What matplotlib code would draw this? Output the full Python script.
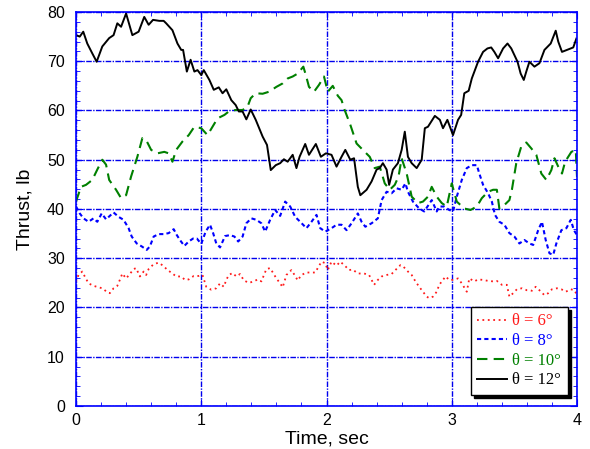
import matplotlib
matplotlib.use("Agg")
import matplotlib.pyplot as plt
from matplotlib.ticker import MultipleLocator

plt.rcParams["font.family"] = ["Liberation Sans", "DejaVu Sans"]

# theta = 6 deg
t6 = [0.0, 0.02, 0.05, 0.07, 0.1, 0.14, 0.18, 0.21, 0.245, 0.27, 0.3, 0.33, 0.35, 0.37, 0.4,
      0.43, 0.46, 0.48, 0.51, 0.54, 0.56, 0.58, 0.62, 0.66, 0.7, 0.73, 0.76, 0.8, 0.84, 0.87,
      0.9, 0.94, 0.98, 1.01, 1.04, 1.08, 1.12, 1.15, 1.18, 1.2, 1.22, 1.25, 1.28, 1.31, 1.34,
      1.38, 1.42, 1.45, 1.48, 1.52, 1.55, 1.6, 1.63, 1.65, 1.68, 1.72, 1.75, 1.77, 1.8, 1.84,
      1.87, 1.91, 1.93, 1.96, 1.99, 2.01, 2.04, 2.08, 2.11, 2.15, 2.18, 2.21, 2.25, 2.3, 2.34,
      2.38, 2.41, 2.44, 2.48, 2.52, 2.55, 2.59, 2.61, 2.65, 2.68, 2.71, 2.74, 2.77, 2.8, 2.82,
      2.85, 2.88, 2.9, 2.93, 2.95, 2.98, 3.01, 3.05, 3.08, 3.12, 3.14, 3.18, 3.21, 3.25, 3.29,
      3.33, 3.36, 3.4, 3.44, 3.46, 3.49, 3.52, 3.56, 3.6, 3.64, 3.67, 3.7, 3.74, 3.77, 3.8,
      3.84, 3.875, 3.91, 3.95, 3.98, 4.0]
th6 = [25.2, 26.6, 27.3, 26.3, 24.9, 24.4, 24.1, 23.9, 23.2, 22.9, 23.9, 24.4, 25.6, 26.9, 25.9,
       26.8, 27.8, 28.0, 26.3, 27.3, 26.6, 27.8, 28.8, 29.1, 28.4, 27.6, 27.1, 26.3, 26.3, 25.6,
       25.7, 26.4, 26.4, 26.6, 24.2, 23.6, 23.9, 24.9, 24.2, 25.6, 26.6, 27.0, 26.3, 26.8, 25.5,
       25.0, 25.3, 25.7, 25.3, 27.8, 28.0, 25.9, 24.9, 24.1, 26.6, 27.6, 26.4, 25.5, 26.6, 27.1,
       27.1, 27.1, 28.0, 29.3, 29.0, 27.6, 29.3, 28.5, 29.3, 28.4, 27.6, 27.7, 26.9, 26.9, 26.6,
       24.6, 25.6, 26.3, 26.6, 26.8, 27.6, 28.6, 28.4, 27.3, 26.6, 25.3, 24.2, 23.2, 22.2, 21.9,
       22.2, 23.2, 24.6, 25.6, 26.3, 25.6, 25.6, 25.9, 24.9, 23.2, 25.9, 25.3, 25.7, 25.6, 25.4,
       25.3, 25.4, 24.6, 24.6, 22.2, 22.9, 23.7, 23.9, 23.5, 23.4, 24.2, 23.5, 22.5, 22.9, 23.7,
       23.9, 23.7, 23.2, 23.7, 23.5, 22.5]

# theta = 8 deg
t8 = [0.0, 0.03, 0.06, 0.1, 0.14, 0.17, 0.205, 0.24, 0.27, 0.3, 0.34, 0.38, 0.42, 0.445, 0.485,
      0.525, 0.565, 0.59, 0.62, 0.66, 0.7, 0.74, 0.78, 0.805, 0.83, 0.865, 0.9, 0.935, 0.965,
      1.0, 1.035, 1.07, 1.095, 1.12, 1.15, 1.19, 1.23, 1.265, 1.295, 1.33, 1.36, 1.4, 1.44,
      1.48, 1.51, 1.55, 1.59, 1.63, 1.67, 1.71, 1.75, 1.79, 1.84, 1.88, 1.92, 1.95, 1.99,
      2.04, 2.08, 2.12, 2.16, 2.2, 2.25, 2.28, 2.31, 2.36, 2.41, 2.44, 2.48, 2.52, 2.56, 2.6,
      2.63, 2.65, 2.69, 2.74, 2.78, 2.84, 2.88, 2.9, 2.94, 2.98, 3.01, 3.04, 3.08, 3.12, 3.16,
      3.2, 3.22, 3.25, 3.29, 3.32, 3.345, 3.38, 3.42, 3.46, 3.5, 3.54, 3.58, 3.62, 3.65, 3.69,
      3.72, 3.75, 3.78, 3.81, 3.835, 3.875, 3.915, 3.95, 3.975, 4.0]
th8 = [40.5, 39.1, 38.1, 37.4, 38.1, 37.4, 39.1, 37.9, 38.6, 39.3, 38.4, 37.8, 36.1, 34.4, 33.0,
       32.4, 31.7, 32.4, 34.4, 34.9, 34.9, 35.1, 35.9, 34.7, 33.7, 32.5, 33.4, 34.0, 34.0,
       32.9, 35.4, 36.8, 35.1, 33.0, 32.2, 34.5, 34.7, 34.4, 33.4, 34.4, 37.1, 38.1, 37.8,
       37.1, 35.4, 37.8, 39.8, 38.6, 41.5, 40.5, 38.4, 37.4, 36.1, 37.4, 38.8, 36.1, 35.4,
       36.1, 36.8, 36.8, 35.7, 37.1, 39.1, 37.4, 36.4, 37.1, 38.1, 41.8, 43.5, 43.2, 44.2, 43.9,
       45.2, 43.5, 41.5, 40.1, 39.5, 41.8, 39.5, 40.5, 40.5, 39.8, 39.5, 42.5, 45.9, 48.3, 48.9,
       48.9, 47.2, 44.9, 43.2, 41.5, 38.8, 37.4, 36.8, 35.1, 34.4, 33.0, 33.7, 33.0, 32.7, 35.7,
       37.4, 33.7, 31.0, 30.7, 33.0, 35.7, 36.1, 37.8, 35.7, 34.7]

# theta = 10 deg
t10 = [0.0, 0.04, 0.08, 0.13, 0.17, 0.21, 0.24, 0.265, 0.32, 0.36, 0.4, 0.44, 0.49, 0.53, 0.56,
       0.6, 0.65, 0.705, 0.74, 0.77, 0.8, 0.85, 0.9, 0.945, 1.0, 1.05, 1.09, 1.13, 1.185, 1.22,
       1.275, 1.33, 1.37, 1.395, 1.435, 1.49, 1.54, 1.6, 1.65, 1.69, 1.73, 1.77, 1.815, 1.835,
       1.86, 1.9, 1.94, 1.98, 2.01, 2.05, 2.09, 2.12, 2.145, 2.19, 2.24, 2.29, 2.345, 2.385,
       2.425, 2.465, 2.505, 2.545, 2.575, 2.6, 2.64, 2.68, 2.73, 2.77, 2.81, 2.84, 2.88, 2.92,
       2.96, 3.0, 3.04, 3.1, 3.15, 3.2, 3.24, 3.29, 3.33, 3.36, 3.38, 3.42, 3.46, 3.48, 3.515,
       3.555, 3.595, 3.635, 3.675, 3.715, 3.755, 3.795, 3.82, 3.85, 3.88, 3.905, 3.955, 3.99, 4.0]
th10 = [41.5, 44.5, 44.9, 45.9, 48.0, 50.0, 49.0, 45.9, 43.9, 42.2, 42.8, 46.6, 50.6, 54.4, 54.0,
        52.0, 51.3, 51.6, 51.3, 49.6, 52.0, 53.7, 55.0, 56.7, 56.4, 55.0, 56.7, 58.4, 59.1, 59.8,
        60.1, 60.1, 60.8, 62.5, 63.5, 63.4, 63.8, 64.8, 65.5, 66.5, 66.9, 67.5, 68.9, 67.2,
        64.8, 63.8, 65.2, 66.9, 63.8, 65.0, 63.0, 62.1, 60.1, 57.1, 53.3, 52.0, 50.6, 48.3,
        48.6, 45.2, 43.9, 44.9, 46.6, 50.3, 47.2, 42.5, 41.2, 41.5, 42.5, 44.5, 42.5, 41.2,
        40.5, 45.2, 41.5, 40.1, 39.8, 40.5, 42.2, 43.5, 43.9, 43.9, 40.1, 40.8, 41.8, 43.9, 49.3,
        52.7, 53.5, 52.3, 51.0, 47.2, 45.9, 47.9, 50.3, 48.6, 47.2, 49.6, 51.6, 52.0, 46.5]

# theta = 12 deg
t12 = [0.0, 0.03, 0.058, 0.09, 0.13, 0.165, 0.21, 0.265, 0.3, 0.33, 0.36, 0.4, 0.45, 0.5, 0.545,
       0.58, 0.615, 0.665, 0.7, 0.72, 0.77, 0.81, 0.84, 0.855, 0.885, 0.915, 0.945, 0.97, 1.0,
       1.02, 1.065, 1.1, 1.14, 1.17, 1.2, 1.24, 1.275, 1.3, 1.33, 1.36, 1.395, 1.435, 1.49,
       1.525, 1.555, 1.595, 1.63, 1.66, 1.69, 1.73, 1.76, 1.785, 1.83, 1.86, 1.915, 1.955, 1.995,
       2.04, 2.08, 2.12, 2.15, 2.19, 2.22, 2.25, 2.27, 2.32, 2.36, 2.4, 2.425, 2.45, 2.48, 2.5,
       2.53, 2.57, 2.6, 2.625, 2.65, 2.68, 2.72, 2.76, 2.785, 2.81, 2.865, 2.905, 2.93, 2.965,
       3.01, 3.05, 3.075, 3.1, 3.135, 3.16, 3.21, 3.25, 3.285, 3.315, 3.34, 3.37, 3.41, 3.445,
       3.475, 3.525, 3.55, 3.575, 3.595, 3.62, 3.66, 3.7, 3.74, 3.79, 3.83, 3.85, 3.88, 3.92,
       3.97, 3.995]
th12 = [75.3, 75.0, 76.0, 73.6, 71.6, 69.9, 73.0, 74.7, 75.3, 77.7, 77.0, 79.7, 75.3, 76.0, 79.0,
        77.4, 78.4, 78.2, 78.2, 77.7, 76.3, 73.6, 72.3, 72.3, 67.9, 70.3, 67.9, 68.2, 67.2,
        68.2, 66.2, 64.2, 64.7, 63.5, 64.3, 62.1, 61.1, 59.8, 59.8, 58.2, 60.2, 58.1, 54.7,
        53.0, 47.9, 48.9, 49.3, 50.1, 49.6, 51.0, 48.3, 50.6, 53.2, 51.0, 53.2, 50.6, 51.3,
        51.0, 48.6, 50.6, 52.0, 50.0, 50.3, 44.5, 42.8, 43.9, 45.6, 48.0, 48.3, 49.3, 48.0, 44.9,
        48.0, 49.3, 52.0, 55.7, 50.6, 49.3, 48.3, 50.0, 56.4, 56.7, 58.9, 58.1, 56.4, 58.1,
        55.0, 58.1, 59.1, 63.5, 64.0, 66.5, 69.9, 71.9, 72.6, 72.8, 71.9, 70.6, 72.6, 73.6,
        72.6, 69.9, 67.5, 66.2, 67.9, 69.9, 68.9, 69.6, 72.3, 73.6, 76.2, 74.0, 71.9, 72.3,
        72.8, 74.6]

series_labels = ["θ = 6°", "θ = 8°", "θ = 10°", "θ = 12°"]

fig = plt.figure(figsize=(5.9, 4.49), dpi=100)
ax = fig.add_axes([0.1288, 0.0958, 0.8492, 0.8775])

ax.plot(t6, th6, color="#ff1a1a", lw=1.3, ls=(0, (1, 2)), label=series_labels[0])
ax.plot(t8, th8, color="#0000ff", lw=1.5, ls=(0, (2, 1.5)), label=series_labels[1])
ax.plot(t10, th10, color="#008000", lw=1.5, ls=(0, (5, 3)), label=series_labels[2])
ax.plot(t12, th12, color="black", lw=1.4, ls="-", label=series_labels[3])

ax.set_xlim(0, 4)
ax.set_ylim(0, 80)
ax.xaxis.set_major_locator(MultipleLocator(1))
ax.xaxis.set_minor_locator(MultipleLocator(0.2))
ax.yaxis.set_major_locator(MultipleLocator(10))
ax.yaxis.set_minor_locator(MultipleLocator(2))

ax.grid(True, which="major", color="#0000ee", lw=1.0, ls=(0, (4, 1, 1, 1)))
for s in ax.spines.values():
    s.set_color("#0000ff")
    s.set_linewidth(1.2)
ax.tick_params(which="both", direction="in", top=True, right=True, color="#0000ff",
               labelsize=11.5, labelcolor="black")
ax.tick_params(which="major", length=5)
ax.tick_params(which="minor", length=3)
ax.tick_params(axis="y", which="major", pad=8)
ax.tick_params(axis="x", which="major", pad=5)

ax.set_xlabel("Time, sec", fontsize=14, labelpad=2)
ax.set_ylabel("Thrust, lb", fontsize=14, labelpad=10)

leg = ax.legend(loc="lower right", bbox_to_anchor=(0.992, 0.015), frameon=True, fancybox=False,
                shadow={"color": "black", "alpha": 1.0}, edgecolor="black",
                prop={"family": "Liberation Serif", "size": 12}, labelcolor="linecolor",
                handlelength=1.8, handletextpad=0.3, borderpad=0.4, labelspacing=0.22,
                borderaxespad=0.3)
leg.get_frame().set_linewidth(1.0)
leg.get_frame().set_alpha(1.0)

fig.savefig("out.png", dpi=100)
